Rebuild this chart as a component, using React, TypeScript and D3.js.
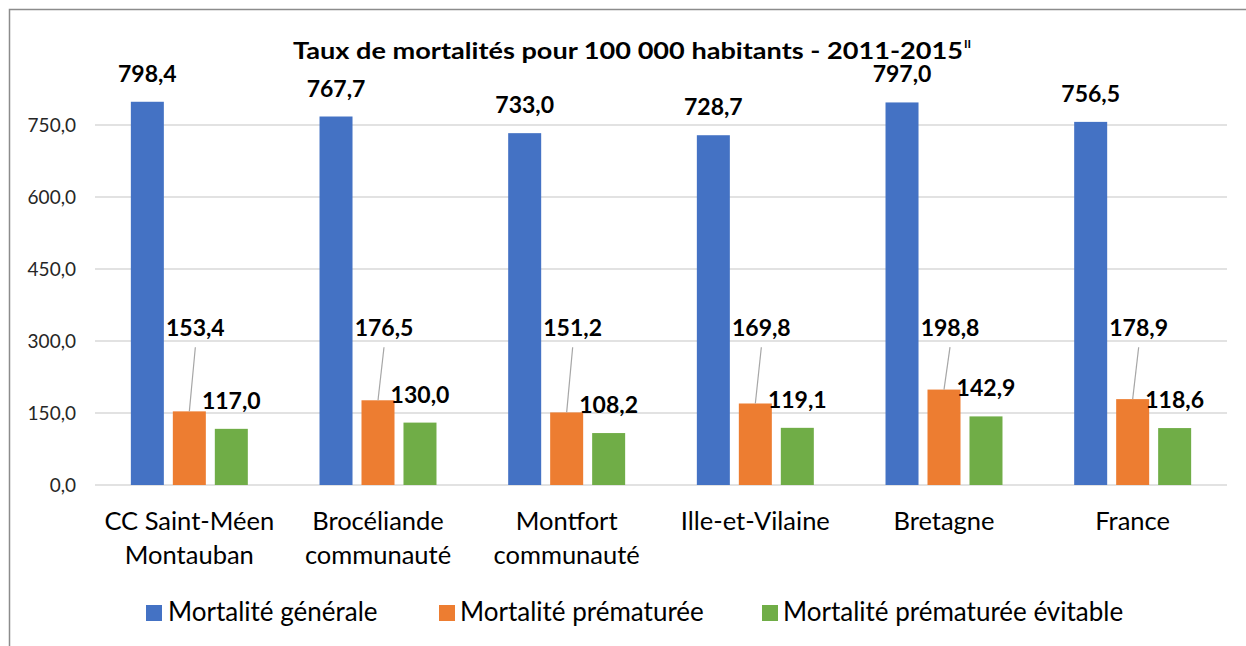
import React from "react";
import * as d3 from "d3";

const categories: string[][] = [
  ["CC Saint-Méen", "Montauban"],
  ["Brocéliande", "communauté"],
  ["Montfort", "communauté"],
  ["Ille-et-Vilaine"],
  ["Bretagne"],
  ["France"],
];
const seriesNames = ["Mortalité générale", "Mortalité prématurée", "Mortalité prématurée évitable"];
const mortaliteGenerale = [798.4, 767.7, 733.0, 728.7, 797.0, 756.5];
const mortalitePrematuree = [153.4, 176.5, 151.2, 169.8, 198.8, 178.9];
const mortaliteEvitable = [117.0, 130.0, 108.2, 119.1, 142.9, 118.6];
const yTicks = [0, 150, 300, 450, 600, 750];
const colors = ["#4472C4", "#ED7D31", "#70AD47"];
const title = "Taux de mortalités pour 100 000 habitants - 2011-2015";
const titleSup = "II";

const W = 1246;
const H = 646;
const FONT = "Lato, 'Open Sans', sans-serif";

const fmt = (v: number) => d3.format(".1f")(v).replace(".", ",");

export default function App() {
  const series = [mortaliteGenerale, mortalitePrematuree, mortaliteEvitable];
  const left = 95;
  const right = 1227;
  const bottom = 485;
  const x0 = d3
    .scaleBand<number>()
    .domain(d3.range(categories.length))
    .range([left, right])
    .paddingInner(0.38)
    .paddingOuter(0.19);
  const x1 = d3
    .scaleBand<number>()
    .domain([0, 1, 2])
    .range([0, x0.bandwidth()])
    .paddingInner(0.214)
    .paddingOuter(0);
  const y = d3.scaleLinear().domain([0, 900]).range([bottom, 53]);
  const orangeLabelBase = y(310);

  const legendItems = [
    { sq: 146, tx: 168 },
    { sq: 439, tx: 460 },
    { sq: 762, tx: 783 },
  ];

  return (
    <svg
      width={W}
      height={H}
      style={{ position: "absolute", left: 0, top: 0, background: "#fff" }}
      fontFamily={FONT}
    >
      <rect x={0} y={0} width={W} height={H} fill="#fff" />
      <rect x={9.5} y={9.5} width={W + 50} height={H + 50} fill="none" stroke="#8c8c8c" strokeWidth={1.5} />

      {/* title */}
      <text x={293} y={59} fontSize={22} fontWeight={700} fill="#000" textLength={670} lengthAdjust="spacingAndGlyphs">
        {title}
      </text>
      <text x={964} y={48} fontSize={12} fontWeight={700} fill="#000">
        {titleSup}
      </text>

      {/* gridlines */}
      {yTicks.map((t) => (
        <g key={t}>
          <line x1={left} x2={right} y1={y(t)} y2={y(t)} stroke="#d9d9d9" strokeWidth={1.3} />
          <text x={76} y={y(t) + 6.5} textAnchor="end" fontSize={19} fill="#262626">
            {fmt(t)}
          </text>
        </g>
      ))}

      {/* bars */}
      {categories.map((c, i) => (
        <g key={i} transform={`translate(${x0(i)},0)`}>
          {series.map((s, k) => {
            const bx = x1(k)!;
            const bw = x1.bandwidth();
            const top = y(s[i]);
            return (
              <rect key={k} x={bx} y={top} width={bw} height={bottom - top} fill={colors[k]} />
            );
          })}
        </g>
      ))}

      {/* labels */}
      {categories.map((c, i) => {
        const gx = x0(i)!;
        const bw = x1.bandwidth();
        const bCx = gx + x1(0)! + bw / 2;
        const oCx = gx + x1(1)! + bw / 2;
        const gCx = gx + x1(2)! + bw / 2;
        const oLx = oCx + 6;
        return (
          <g key={i} fontWeight={700} fontSize={23} fill="#000" textAnchor="middle">
            <text x={bCx} y={y(mortaliteGenerale[i]) - 20}>
              {fmt(mortaliteGenerale[i])}
            </text>
            <line
              x1={oLx}
              y1={orangeLabelBase + 11}
              x2={oCx}
              y2={y(mortalitePrematuree[i])}
              stroke="#a6a6a6"
              strokeWidth={1.2}
            />
            <text x={oLx} y={orangeLabelBase}>
              {fmt(mortalitePrematuree[i])}
            </text>
            <text x={gCx} y={y(mortaliteEvitable[i]) - 20}>
              {fmt(mortaliteEvitable[i])}
            </text>
          </g>
        );
      })}

      {/* category labels */}
      {categories.map((lines, i) => (
        <text key={i} textAnchor="middle" fontSize={25.5} fill="#000">
          {lines.map((l, j) => (
            <tspan key={j} x={x0(i)! + x0.bandwidth() / 2} y={530 + j * 34}>
              {l}
            </tspan>
          ))}
        </text>
      ))}

      {/* legend */}
      {seriesNames.map((n, k) => (
        <g key={k}>
          <rect x={legendItems[k].sq} y={605} width={16} height={16} fill={colors[k]} />
          <text x={legendItems[k].tx} y={620.5} fontSize={26} fill="#000">
            {n}
          </text>
        </g>
      ))}
    </svg>
  );
}
